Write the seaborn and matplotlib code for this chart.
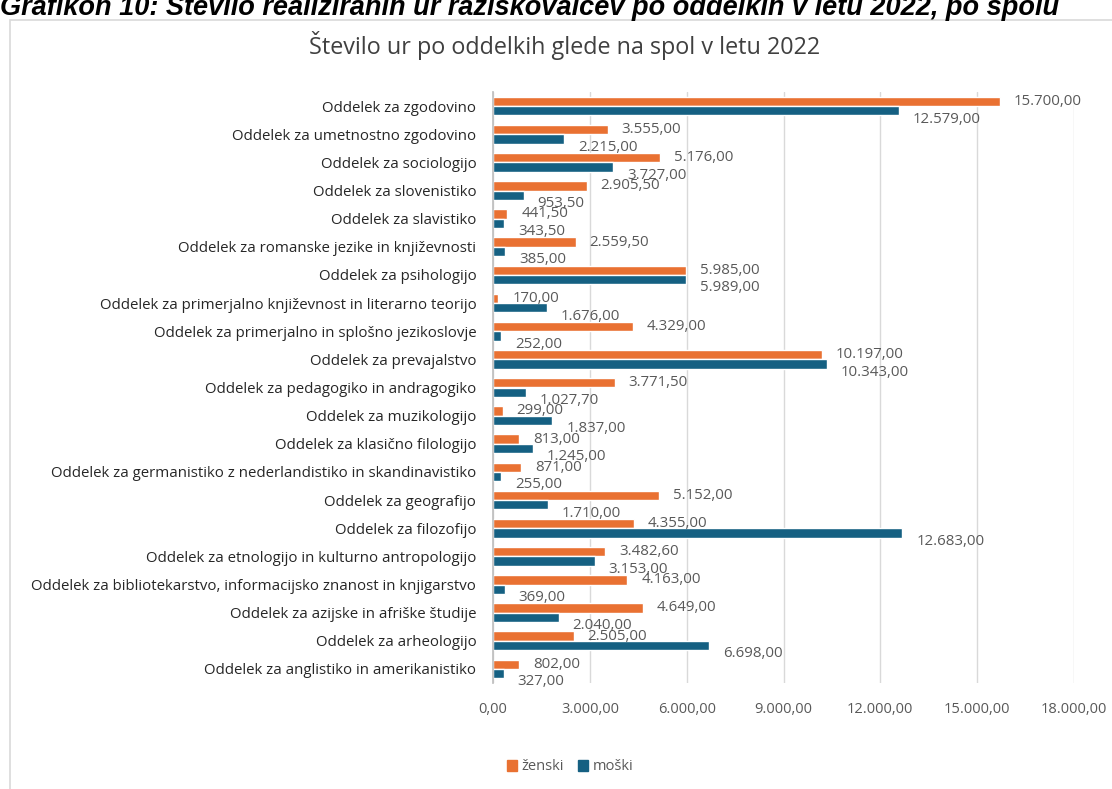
import matplotlib
matplotlib.use('Agg')
import matplotlib.pyplot as plt
import matplotlib.patches as mpatches
from matplotlib.ticker import FuncFormatter
import seaborn as sns
import pandas as pd

sns.set_theme(style="white")
plt.rcParams['font.family'] = ['Open Sans', 'DejaVu Sans']

# podatki (od zgoraj navzdol)
oddelki = [
    "Oddelek za zgodovino",
    "Oddelek za umetnostno zgodovino",
    "Oddelek za sociologijo",
    "Oddelek za slovenistiko",
    "Oddelek za slavistiko",
    "Oddelek za romanske jezike in književnosti",
    "Oddelek za psihologijo",
    "Oddelek za primerjalno književnost in literarno teorijo",
    "Oddelek za primerjalno in splošno jezikoslovje",
    "Oddelek za prevajalstvo",
    "Oddelek za pedagogiko in andragogiko",
    "Oddelek za muzikologijo",
    "Oddelek za klasično filologijo",
    "Oddelek za germanistiko z nederlandistiko in skandinavistiko",
    "Oddelek za geografijo",
    "Oddelek za filozofijo",
    "Oddelek za etnologijo in kulturno antropologijo",
    "Oddelek za bibliotekarstvo, informacijsko znanost in knjigarstvo",
    "Oddelek za azijske in afriške študije",
    "Oddelek za arheologijo",
    "Oddelek za anglistiko in amerikanistiko",
]
zenski = [15700, 3555, 5176, 2905.5, 441.5, 2559.5, 5985, 170, 4329, 10197,
          3771.5, 299, 813, 871, 5152, 4355, 3482.6, 4163, 4649, 2505, 802]
moski = [12579, 2215, 3727, 953.5, 343.5, 385, 5989, 1676, 252, 10343,
         1027.7, 1837, 1245, 255, 1710, 12683, 3153, 369, 2040, 6698, 327]
spol = ["ženski", "moški"]
barve = ["#E97132", "#156082"]

df = pd.DataFrame({
    "oddelek": oddelki * 2,
    "ure": zenski + moski,
    "spol": [spol[0]] * len(oddelki) + [spol[1]] * len(oddelki),
})


def sl_format(v, pos=None):
    s = f"{v:,.2f}"
    return s.replace(",", "X").replace(".", ",").replace("X", ".")


SIVA = "#595959"

fig = plt.figure(figsize=(11.12, 7.89), dpi=100)

# okvir grafikona
fig.patches.append(mpatches.Rectangle((10 / 1112, -0.01), 1.1, 1 - 20 / 789 + 0.01,
                                      transform=fig.transFigure, fill=False,
                                      edgecolor="#D9D9D9", linewidth=1.2))

# napis nad grafom (v izvirniku odrezan zgoraj)
fig.text(0.0, 1 - 15 / 789, "Grafikon 10: Število realiziranih ur raziskovalcev po oddelkih v letu 2022, po spolu",
         family=['Liberation Sans', 'DejaVu Sans'], fontsize=19.5, fontweight='bold',
         fontstyle='italic', color="black", va='baseline', ha='left')

ax = fig.add_axes([493 / 1112, 1 - 683 / 789, 581 / 1112, 591 / 789])
sns.barplot(data=df, y="oddelek", x="ure", hue="spol", orient="y",
            palette=barve, width=0.66, saturation=1, ax=ax, legend=False)

ax.set_xlim(0, 18000)
ax.set_xticks(range(0, 18001, 3000))
ax.xaxis.set_major_formatter(FuncFormatter(sl_format))
ax.grid(axis='x', color="#D9D9D9", linewidth=1)
ax.set_axisbelow(True)
for s in ["top", "right", "bottom"]:
    ax.spines[s].set_visible(False)
ax.spines["left"].set_color("#BFBFBF")
ax.set_xlabel("")
ax.set_ylabel("")
ax.tick_params(axis='x', length=0, pad=14, labelsize=10.5, labelcolor=SIVA)
ax.tick_params(axis='y', length=0, pad=12, labelsize=10.8, labelcolor="#262626")

# oznake vrednosti
for i, cont in enumerate(ax.containers):
    vals = zenski if i == 0 else moski
    dy = 0 if i == 0 else -6
    for bar, v in zip(cont, vals):
        y = bar.get_y() + bar.get_height() / 2
        ax.annotate(sl_format(v), (bar.get_width(), y), xytext=(10, dy),
                    textcoords='offset points', ha='left', va='center',
                    fontsize=10.8, color=SIVA)

fig.text(565 / 1112, 1 - 45 / 789, "Število ur po oddelkih glede na spol v letu 2022",
         ha='center', va='center', fontsize=16.8, color="#404040")

handles = [mpatches.Patch(color=c, label=l) for c, l in zip(barve, spol)]
fig.legend(handles=handles, loc='center', bbox_to_anchor=(570 / 1112, 1 - 767 / 789),
           ncol=2, frameon=False, fontsize=10.5, handlelength=0.7, handleheight=0.7,
           handletextpad=0.3, columnspacing=1.0, labelcolor=SIVA)

fig.savefig("out.png", dpi=100)
